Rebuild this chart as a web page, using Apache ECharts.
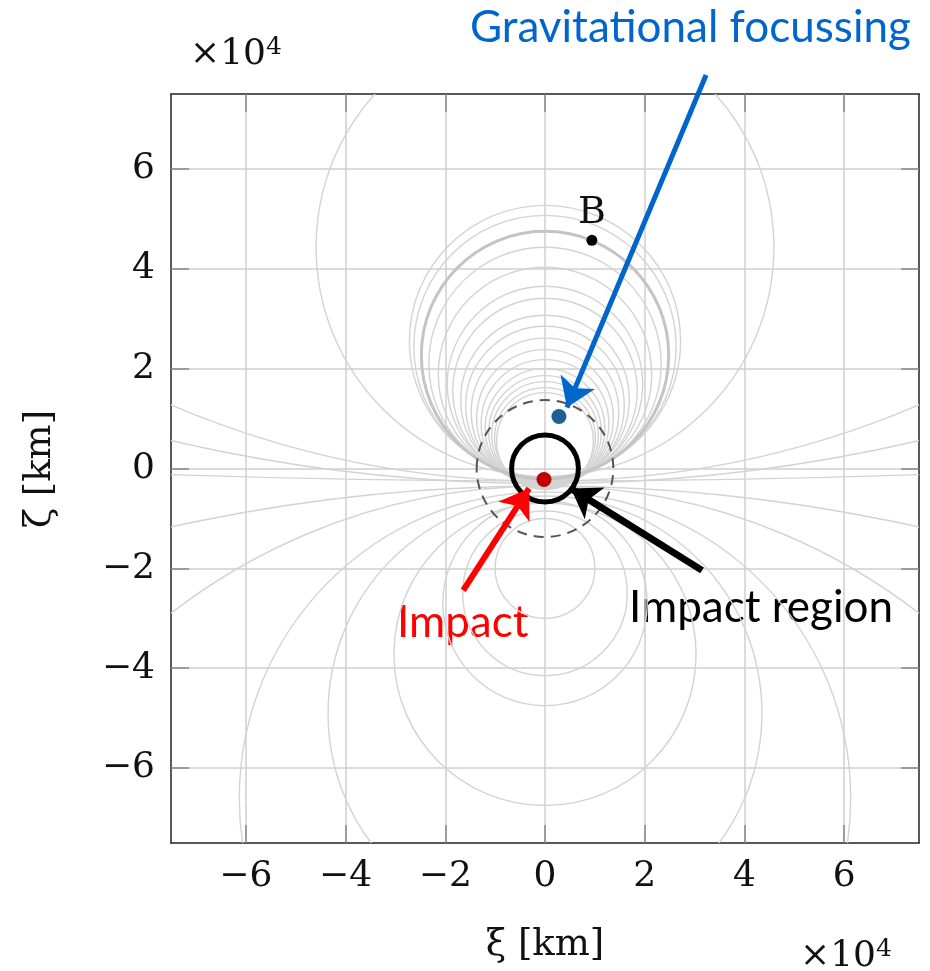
<!DOCTYPE html>
<html><head><meta charset="utf-8">
<script src="https://cdn.jsdelivr.net/npm/echarts@6/dist/echarts.min.js"></script>
<style>html,body{margin:0;padding:0;background:#fff}#c{width:930px;height:971px}</style>
</head><body><div id="c"></div>
<script>
// all values in units of 1e4 km
const tickValues = [-6, -4, -2, 0, 2, 4, 6];
// upper family of circles (centre on zeta axis, radius)
const upperCentre = [4.43, 2.55, 2.44, 2.10, 1.89, 1.69, 1.56, 1.38, 1.26, 1.13, 1.01, 0.90, 0.80, 0.73, 0.67, 0.61, 0.55];
const upperRadius = [4.59, 2.72, 2.63, 2.33, 2.14, 1.96, 1.85, 1.69, 1.59, 1.48, 1.37, 1.28, 1.20, 1.13, 1.07, 1.01, 0.97];
// highlighted (thick) circle
const thickCentre = [2.27];
const thickRadius = [2.48];
// lower family of circles
const lowerCentre = [-2.0, -2.5, -2.7, -3.72, -4.9, -6.6, -12.65, -34.65];
const lowerRadius = [1.0, 1.65, 2.05, 3.03, 4.35, 6.13, 12.3, 34.3];
// very large circles forming the fan above
const fanCentre = [18.9, 32.5, 216];
const fanRadius = [19.15, 32.8, 216.25];
// impact region and dashed circle
const impactRegionRadius = [0.67];
const dashedRadius = [1.37];
// points [xi, zeta]
const pointImpact = [-0.02, -0.22];
const pointFocus = [0.28, 1.04];
const pointB = [0.94, 4.57];
// annotation arrows [start, end]
const arrowFocus = [[3.23, 7.88], [0.44, 1.22]];
const arrowImpact = [[-1.64, -2.44], [-0.32, -0.40]];
const arrowRegion = [[3.15, -2.04], [0.52, -0.40]];

const chart = echarts.init(document.getElementById('c'), null, {renderer: 'canvas'});

function circleData(centres, radii) {
  return centres.map((c, i) => [0, c, radii[i]]);
}
function circleSeries(data, style, z) {
  return {
    type: 'custom', coordinateSystem: 'cartesian2d', clip: true, silent: true, z: z,
    data: data, encode: {x: 0, y: 1},
    renderItem: function (params, api) {
      const c = api.coord([api.value(0), api.value(1)]);
      const s = api.size([api.value(2), api.value(2)]);
      const cs = params.coordSys;
      return {
        type: 'ellipse',
        shape: {cx: c[0], cy: c[1], rx: s[0], ry: s[1]},
        style: Object.assign({fill: 'none'}, style),
        clipPath: {type: 'rect', shape: {x: cs.x, y: cs.y, width: cs.width, height: cs.height}}
      };
    }
  };
}
const fmt = v => (v < 0 ? '\u2212' + Math.abs(v) : String(v));
const serif = 'DejaVu Serif';
const axisLine = {show: true, onZero: false, lineStyle: {color: '#222', width: 1.5}};
const tick = {show: true, inside: true, length: 18, customValues: tickValues, lineStyle: {color: '#888', width: 1.5}};
const label = {customValues: tickValues, formatter: fmt, fontFamily: serif, fontSize: 36, color: '#111'};

chart.setOption({
  animation: false,
  grid: {left: 171, top: 94, width: 748, height: 749, containLabel: false},
  xAxis: [
    {type: 'value', min: -7.5, max: 7.5, position: 'bottom', axisLine: axisLine, axisTick: tick,
     axisLabel: Object.assign({margin: 16}, label),
     splitLine: {show: true, lineStyle: {color: '#cfcfcf', width: 1.5}}},
    {type: 'value', min: -7.5, max: 7.5, position: 'top', axisLine: axisLine, axisTick: tick,
     axisLabel: {show: false}, splitLine: {show: false}}
  ],
  yAxis: [
    {type: 'value', min: -7.5, max: 7.5, position: 'left', axisLine: axisLine, axisTick: tick,
     axisLabel: Object.assign({margin: 16}, label),
     splitLine: {show: true, lineStyle: {color: '#cfcfcf', width: 1.5}}},
    {type: 'value', min: -7.5, max: 7.5, position: 'right', axisLine: axisLine, axisTick: tick,
     axisLabel: {show: false}, splitLine: {show: false}}
  ],
  series: [
    circleSeries(circleData(upperCentre, upperRadius), {stroke: '#d3d3d3', lineWidth: 1.4}, 2),
    circleSeries(circleData(lowerCentre, lowerRadius), {stroke: '#d3d3d3', lineWidth: 1.4}, 2),
    circleSeries(circleData(fanCentre, fanRadius), {stroke: '#d3d3d3', lineWidth: 1.4}, 2),
    circleSeries(circleData(thickCentre, thickRadius), {stroke: '#c4c4c4', lineWidth: 3}, 3),
    circleSeries(circleData([0], dashedRadius), {stroke: '#555', lineWidth: 2, lineDash: [10, 7]}, 4),
    circleSeries(circleData([0], impactRegionRadius), {stroke: '#000', lineWidth: 5}, 5),
    {
      type: 'scatter', z: 8, silent: true,
      itemStyle: {opacity: 1},
      data: [
        {value: pointImpact, symbolSize: 15, itemStyle: {color: '#c00000', opacity: 1}},
        {value: pointFocus, symbolSize: 15, itemStyle: {color: '#1f6094', opacity: 1}},
        {value: pointB, symbolSize: 11, itemStyle: {color: '#000', opacity: 1},
         label: {show: true, formatter: 'B', position: 'top', distance: 3, fontFamily: serif, fontSize: 38, color: '#111'}}
      ]
    },
    {
      type: 'lines', coordinateSystem: 'cartesian2d', clip: false, z: 9, silent: true,
      symbol: ['none', 'arrow'], symbolSize: 28,
      lineStyle: {width: 5, opacity: 1},
      data: [
        {coords: arrowFocus, lineStyle: {color: '#0066cc', width: 5}},
        {coords: arrowImpact, lineStyle: {color: '#ff0000', width: 6}},
        {coords: arrowRegion, lineStyle: {color: '#000000', width: 7}}
      ]
    }
  ],
  graphic: [
    {type: 'text', x: 470, y: 28, style: {text: 'Gravitational focussing', font: '44px Lato', fill: '#0066cc', align: 'left', verticalAlign: 'middle'}},
    {type: 'text', x: 629, y: 608, style: {text: 'Impact region', font: '44px Lato', fill: '#000', align: 'left', verticalAlign: 'middle'}},
    {type: 'text', x: 397, y: 623, style: {text: 'Impact', font: '44px Lato', fill: '#ff0000', align: 'left', verticalAlign: 'middle'}},
    {type: 'text', x: 190, y: 55, style: {text: '×10{s|4}', font: '36px "DejaVu Serif"', fill: '#111', align: 'left', verticalAlign: 'middle',
      rich: {s: {fontSize: 25, fontFamily: serif, verticalAlign: 'top', padding: [0, 0, 16, 0]}}}},
    {type: 'text', x: 800, y: 957, style: {text: '×10{s|4}', font: '36px "DejaVu Serif"', fill: '#111', align: 'left', verticalAlign: 'middle',
      rich: {s: {fontSize: 25, fontFamily: serif, verticalAlign: 'top', padding: [0, 0, 16, 0]}}}},
    {type: 'text', x: 545, y: 945, style: {text: 'ξ [km]', font: '37px "DejaVu Serif"', fill: '#111', align: 'center', verticalAlign: 'middle'}},
    {type: 'text', x: 40, y: 469, rotation: Math.PI / 2, style: {text: 'ζ [km]', font: '37px "DejaVu Serif"', fill: '#111', align: 'center', verticalAlign: 'middle'}}
  ]
});
</script></body></html>
